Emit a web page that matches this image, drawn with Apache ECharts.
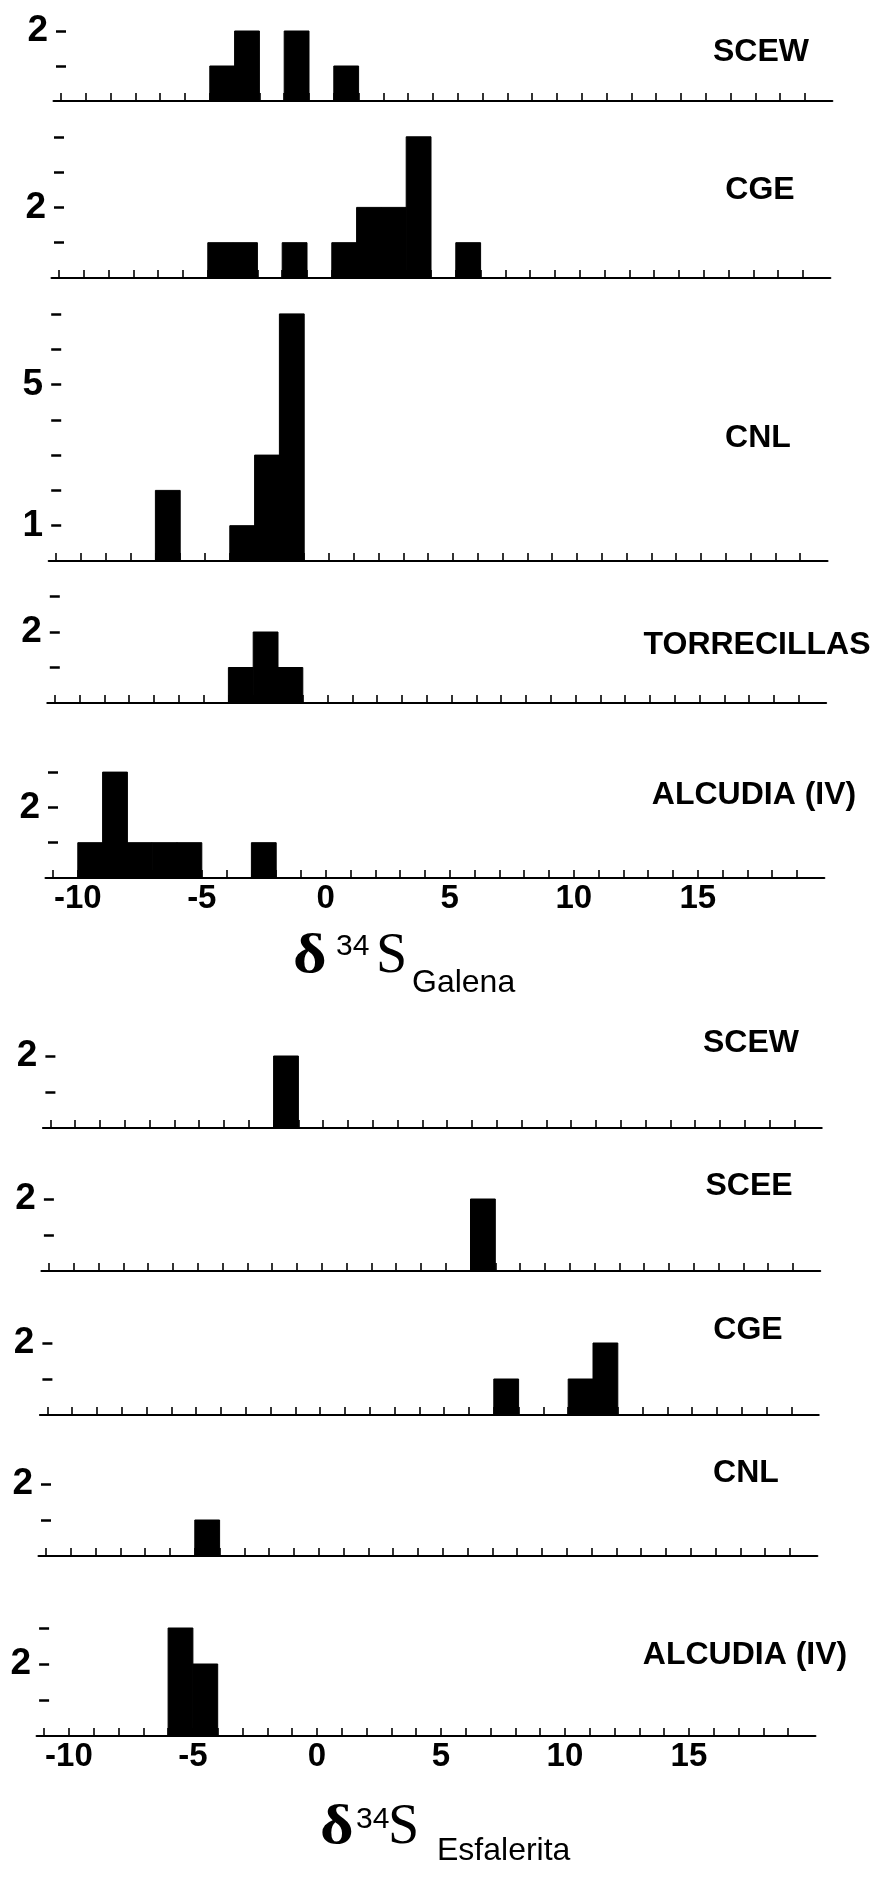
<!DOCTYPE html>
<html>
<head>
<meta charset="utf-8">
<script src="https://cdn.jsdelivr.net/npm/echarts@6/dist/echarts.min.js"></script>
<style>
html,body{margin:0;padding:0;background:#ffffff;}
#c{width:871px;height:1878px;}
</style>
</head>
<body>
<div id="c"></div>
<script>
// ---------------- DATA ----------------
// bin = left edge of a 1-permil class, count = number of samples
const galenaSCEW_bins   = [-5, -4, -2, 0];
const galenaSCEW_counts = [ 1,  2,  2, 1];
const galenaCGE_bins    = [-5, -4, -2, 0, 1, 2, 3, 5];
const galenaCGE_counts  = [ 1,  1,  1, 1, 2, 2, 4, 1];
const galenaCNL_bins    = [-7, -4, -3, -2];
const galenaCNL_counts  = [ 2,  1,  3,  7];
const galenaTORR_bins   = [-4, -3, -2];
const galenaTORR_counts = [ 1,  2,  1];
const galenaALC_bins    = [-10, -9, -8, -7, -6, -3];
const galenaALC_counts  = [  1,  3,  1,  1,  1,  1];

const esfSCEW_bins   = [-2];
const esfSCEW_counts = [ 2];
const esfSCEE_bins   = [6];
const esfSCEE_counts = [2];
const esfCGE_bins    = [7, 10, 11];
const esfCGE_counts  = [1,  1,  2];
const esfCNL_bins    = [-5];
const esfCNL_counts  = [ 1];
const esfALC_bins    = [-6, -5];
const esfALC_counts  = [ 3,  2];

const panelNames  = ['SCEW', 'CGE', 'CNL', 'TORRECILLAS', 'ALCUDIA (IV)',
                     'SCEW', 'SCEE', 'CGE', 'CNL', 'ALCUDIA (IV)'];
const panelBins   = [galenaSCEW_bins, galenaCGE_bins, galenaCNL_bins, galenaTORR_bins, galenaALC_bins,
                     esfSCEW_bins, esfSCEE_bins, esfCGE_bins, esfCNL_bins, esfALC_bins];
const panelCounts = [galenaSCEW_counts, galenaCGE_counts, galenaCNL_counts, galenaTORR_counts, galenaALC_counts,
                     esfSCEW_counts, esfSCEE_counts, esfCGE_counts, esfCNL_counts, esfALC_counts];
const panelYMax    = [2, 4, 7, 3, 3, 2, 2, 2, 2, 3];
const panelYLabels = [[2], [2], [1, 5], [2], [2], [2], [2], [2], [2], [2]];

const xTickValues  = [-11,-10,-9,-8,-7,-6,-5,-4,-3,-2,-1,0,1,2,3,4,5,6,7,8,9,10,11,12,13,14,15,16,17,18,19];
const xLabelValues = [-10, -5, 0, 5, 10, 15];
const titleSubs    = ['Galena', 'Esfalerita'];

// ---------------- LAYOUT (pixels) ----------------
const X_MIN = -11.3, X_MAX = 20.1, PX_PER_UNIT = 24.8;
const baseY  = [101, 278, 561, 703, 878, 1128, 1271, 1415, 1556, 1736];
const unitY  = [35, 35.3, 35.3, 35.5, 35.3, 36, 36, 36, 36, 36];
const xAt11  = [61, 59, 56.2, 54.8, 53, 50.4, 48.9, 47.4, 46, 44.1];
const nameX  = [761, 760, 758, 757, 754, 751, 749, 748, 746, 745];
const nameY  = [52, 190, 438, 645, 795, 1043, 1186, 1330, 1473, 1655];
const showXLabels = [false, false, false, false, true, false, false, false, false, true];

const SANS = '"Liberation Sans", Arial, Helvetica, sans-serif';
const SERIF = '"Liberation Serif", "Times New Roman", serif';

const grids = [], xAxes = [], yAxes = [], series = [], graphics = [];

for (let i = 0; i < panelNames.length; i++) {
  const h = panelYMax[i] * unitY[i];
  const left = xAt11[i] - (-11 - X_MIN) * PX_PER_UNIT;
  const width = (X_MAX - X_MIN) * PX_PER_UNIT;
  grids.push({
    left: left, top: baseY[i] - h, width: width, height: h,
    containLabel: false, outerBoundsMode: 'none'
  });
  xAxes.push({
    type: 'value', gridIndex: i, min: X_MIN, max: X_MAX,
    axisLine: { show: true, onZero: false, lineStyle: { color: '#000', width: 2.2 } },
    axisTick: { show: true, inside: true, length: 8, customValues: xTickValues,
                lineStyle: { color: '#000', width: 1.6 } },
    axisLabel: { show: showXLabels[i], customValues: xLabelValues, margin: 4,
                 color: '#000', fontFamily: SANS, fontWeight: 'bold', fontSize: 33 },
    splitLine: { show: false }
  });
  const yTicks = [];
  for (let v = 1; v <= panelYMax[i]; v++) yTicks.push(v);
  yAxes.push({
    type: 'value', gridIndex: i, min: 0, max: panelYMax[i], position: 'left',
    offset: -((xAt11[i] + 5) - left),
    axisLine: { show: false, onZero: false },
    axisTick: { show: true, length: 10, customValues: yTicks,
                lineStyle: { color: '#000', width: 2.5 } },
    axisLabel: { show: true, customValues: panelYLabels[i], margin: 18,
                 color: '#000', fontFamily: SANS, fontWeight: 'bold', fontSize: 37 },
    splitLine: { show: false }
  });
  series.push({
    type: 'custom', xAxisIndex: i, yAxisIndex: i,
    data: panelBins[i].map((b, k) => [b, panelCounts[i][k]]),
    encode: { x: 0, y: 1 },
    renderItem: function (params, api) {
      const x0 = api.value(0), n = api.value(1);
      const p0 = api.coord([x0, 0]);
      const p1 = api.coord([x0 + 1, n]);
      return {
        type: 'rect',
        shape: { x: p0[0], y: p1[1], width: p1[0] - p0[0], height: p0[1] - p1[1] },
        style: { fill: '#000', stroke: '#000', lineWidth: 1 }
      };
    }
  });
  graphics.push({
    type: 'text', x: nameX[i], y: nameY[i],
    style: { text: panelNames[i], fill: '#000', font: 'bold 32px ' + SANS,
             textAlign: 'center', textVerticalAlign: 'middle' }
  });
}

// axis titles  (delta 34 S subscript)
const D_SIZE = 54, S_SIZE = 56, SUP_SIZE = 30, SUB_SIZE = 32;
const titlePos = [
  { d: [293, 976], sup: [336, 957], s: [376, 976], sub: [412, 994] },
  { d: [320, 1847], sup: [356, 1830], s: [388, 1847], sub: [437, 1862] }
];
titlePos.forEach((p, j) => {
  graphics.push({ type: 'text', x: p.d[0], y: p.d[1] - 0.34 * D_SIZE, scaleX: 1.2, originX: 0, originY: 0,
    style: { text: 'δ', fill: '#000', font: 'bold ' + D_SIZE + 'px ' + SERIF, textAlign: 'left', textVerticalAlign: 'middle' } });
  graphics.push({ type: 'text', x: p.sup[0], y: p.sup[1] - 0.34 * SUP_SIZE,
    style: { text: '34', fill: '#000', font: SUP_SIZE + 'px ' + SANS, textAlign: 'left', textVerticalAlign: 'middle' } });
  graphics.push({ type: 'text', x: p.s[0], y: p.s[1] - 0.34 * S_SIZE,
    style: { text: 'S', fill: '#000', font: S_SIZE + 'px ' + SERIF, textAlign: 'left', textVerticalAlign: 'middle' } });
  graphics.push({ type: 'text', x: p.sub[0], y: p.sub[1] - 0.34 * SUB_SIZE,
    style: { text: titleSubs[j], fill: '#000', font: SUB_SIZE + 'px ' + SANS, textAlign: 'left', textVerticalAlign: 'middle' } });
});

const chart = echarts.init(document.getElementById('c'), null, { renderer: 'canvas', width: 871, height: 1878 });
chart.setOption({
  animation: false,
  backgroundColor: '#ffffff',
  grid: grids,
  xAxis: xAxes,
  yAxis: yAxes,
  series: series,
  graphic: graphics
});
</script>
</body>
</html>
